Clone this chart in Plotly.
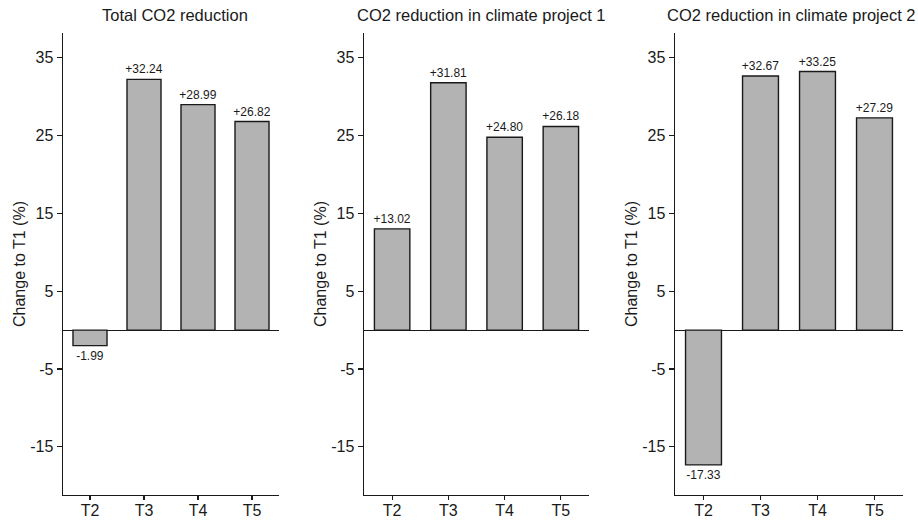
import plotly.graph_objects as go

categories = ["T2", "T3", "T4", "T5"]
titles = ["Total CO2 reduction", "CO2 reduction in climate project 1", "CO2 reduction in climate project 2"]
total_values = [-1.99, 32.24, 28.99, 26.82]
project1_values = [13.02, 31.81, 24.80, 26.18]
project2_values = [-17.33, 32.67, 33.25, 27.29]
y_ticks = [-15, -5, 5, 15, 25, 35]
y_ticklabels = ["-15", "-5", "5", "15", "25", "35"]
y_title = "Change to T1 (%)"

series = [total_values, project1_values, project2_values]

W, H = 918, 522
x_domains_px = [(63, 279), (364, 589), (675, 903)]
title_centers_px = [175, 481, 791]
y_top_px, y_bot_px = 33, 495
font_family = "Liberation Sans, Arial, sans-serif"
ink = "#1a1a1a"

fig = go.Figure()
layout = dict(
    width=W, height=H,
    margin=dict(l=0, r=0, t=0, b=0),
    paper_bgcolor="white", plot_bgcolor="white",
    showlegend=False,
    font=dict(family=font_family, color=ink),
    annotations=[],
)

for i, vals in enumerate(series):
    sfx = "" if i == 0 else str(i + 1)
    xa, ya = "x" + sfx, "y" + sfx
    fig.add_trace(go.Bar(
        x=categories, y=vals, xaxis=xa, yaxis=ya,
        width=0.63,
        marker=dict(color="#b3b3b3", line=dict(color=ink, width=1.4)),
        text=[f"{v:+.2f}" for v in vals],
        textposition="outside", constraintext="none", cliponaxis=False,
        textfont=dict(size=12, color=ink, family=font_family),
    ))
    x0, x1 = x_domains_px[i]
    layout["xaxis" + sfx] = dict(
        domain=[x0 / W, x1 / W], anchor=ya, range=[-0.5, 3.5],
        showline=True, linecolor=ink, linewidth=1.4,
        ticks="outside", ticklen=4, tickcolor=ink, tickwidth=1.2,
        ticklabelstandoff=-4,
        tickfont=dict(size=16, color=ink), showgrid=False, automargin=False,
    )
    layout["yaxis" + sfx] = dict(
        domain=[(H - y_bot_px) / H, (H - y_top_px) / H], anchor=xa,
        range=[-21.2, 38.2], tickvals=y_ticks, ticktext=y_ticklabels,
        showline=True, linecolor=ink, linewidth=1.4,
        ticks="outside", ticklen=5, tickcolor=ink, tickwidth=1.2,
        tickfont=dict(size=16, color=ink), showgrid=False,
        zeroline=True, zerolinecolor=ink, zerolinewidth=1.2,
        automargin=False,
    )
    layout["annotations"].append(dict(
        text=titles[i], xref="paper", yref="paper",
        x=title_centers_px[i] / W, y=1 - 15 / H, xanchor="center", yanchor="middle",
        showarrow=False, font=dict(size=16.5, color=ink),
    ))
    layout["annotations"].append(dict(
        text=y_title, xref="paper", yref="paper", textangle=-90,
        x=(x0 - 44) / W, y=1 - 264 / H, xanchor="center", yanchor="middle",
        showarrow=False, font=dict(size=16, color=ink),
    ))

fig.update_layout(**layout)
fig.write_html(
    "out.html",
    config={"displayModeBar": False, "staticPlot": True},
    post_script="document.body.style.margin='0px';document.body.style.overflow='hidden';",
)
